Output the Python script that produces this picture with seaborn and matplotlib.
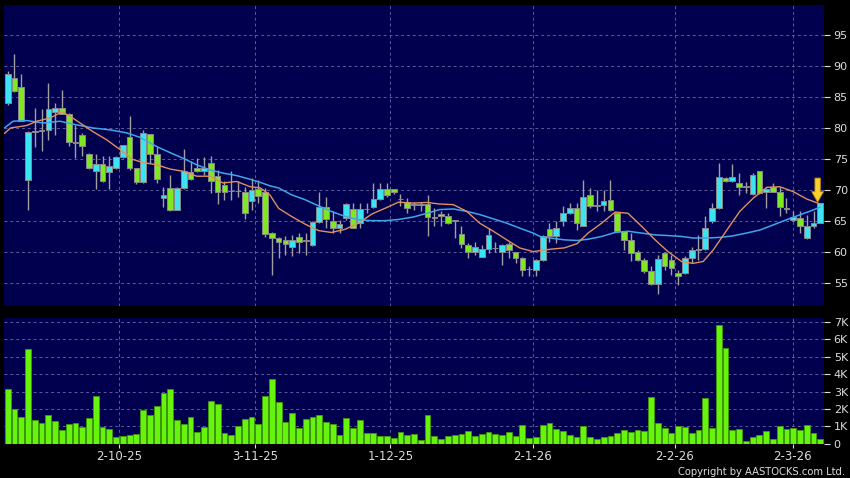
import matplotlib
matplotlib.use('Agg')
import matplotlib.pyplot as plt
import seaborn as sns
import pandas as pd

# 日K資料
opens = [84.0, 88.1, 86.6, 71.6, 79.4, 79.6, 79.7, 82.6, 83.3, 82.3,
         77.7, 78.9, 75.8, 73.1, 74.2, 72.9, 73.5, 75.3, 78.5, 73.5,
         71.2, 79.0, 75.8, 68.7, 70.3, 66.8, 70.3, 72.9, 73.6, 73.1,
         74.3, 72.2, 70.8, 69.8, 69.8, 69.7, 68.2, 70.2, 69.6, 63.0,
         62.2, 61.9, 60.7, 62.3, 61.75, 61.0, 64.8, 67.15, 65.0, 63.8,
         65.4, 66.9, 64.6, 66.9, 67.15, 68.5, 70.1, 70.1, 68.5, 68.1,
         67.6, 67.5, 67.7, 65.5, 66.1, 65.8, 65.0, 62.9, 61.1, 59.9,
         59.2, 60.5, 60.6, 59.9, 61.2, 59.9, 58.9, 57.2, 57.1, 58.7,
         63.7, 62.6, 64.9, 66.2, 67.0, 64.2, 69.1, 67.5, 67.6, 68.3,
         66.3, 63.3, 61.9, 60.0, 58.7, 56.9, 54.8, 59.8, 58.6, 56.6,
         56.5, 58.9, 60.2, 60.4, 65.0, 67.0, 71.9, 71.4, 71.1, 70.5,
         69.3, 73.0, 69.7, 70.4, 69.7, 67.0, 65.1, 65.4, 62.2, 64.2,
         64.7]
highs = [89.2, 92.0, 88.8, 79.5, 83.2, 83.0, 87.2, 84.1, 86.1, 82.4,
         80.5, 79.2, 75.9, 75.8, 75.4, 75.4, 75.4, 77.3, 81.9, 73.6,
         79.6, 79.1, 77.0, 70.5, 72.4, 70.4, 76.6, 74.6, 75.1, 75.3,
         75.5, 73.2, 71.4, 73.0, 71.5, 70.5, 71.9, 71.6, 70.3, 63.1,
         62.3, 62.5, 62.7, 63.0, 63.0, 64.9, 69.6, 68.9, 66.5, 65.15,
         67.85, 67.85, 67.85, 67.85, 71.1, 71.1, 71.1, 70.2, 69.3, 68.6,
         68.1, 68.1, 69.2, 67.0, 66.5, 66.2, 65.1, 64.1, 61.4, 61.6,
         61.1, 63.8, 61.6, 61.2, 61.6, 60.0, 59.2, 57.6, 58.8, 62.7,
         64.6, 64.9, 67.3, 67.85, 67.85, 71.6, 70.3, 70.0, 70.0, 71.6,
         66.4, 63.4, 63.0, 60.3, 58.9, 57.6, 59.5, 59.9, 59.5, 57.1,
         59.3, 60.7, 62.7, 65.7, 67.8, 74.4, 72.0, 74.2, 72.7, 71.2,
         72.7, 73.1, 70.3, 71.1, 70.5, 68.6, 66.5, 66.5, 66.0, 66.5,
         67.8]
lows = [83.8, 85.9, 81.1, 66.8, 77.0, 76.2, 78.0, 78.9, 82.2, 77.1,
        75.1, 75.4, 73.4, 70.1, 71.3, 70.1, 73.4, 75.2, 73.2, 71.0,
        71.1, 74.3, 71.1, 67.2, 66.5, 66.7, 70.2, 71.6, 72.9, 72.4,
        69.5, 67.7, 68.4, 68.4, 68.9, 65.3, 66.8, 67.9, 62.4, 56.2,
        58.9, 59.5, 59.3, 59.8, 59.5, 60.9, 64.6, 63.8, 63.0, 63.0,
        65.15, 63.8, 63.8, 66.2, 67.0, 68.4, 68.9, 69.4, 67.4, 66.2,
        66.8, 66.6, 62.6, 64.1, 64.1, 64.5, 62.2, 60.6, 58.9, 59.5,
        59.1, 59.75, 60.0, 57.9, 58.9, 58.1, 56.0, 56.0, 56.0, 58.4,
        61.6, 61.4, 64.2, 66.1, 63.5, 64.1, 67.0, 66.5, 66.5, 66.5,
        63.2, 60.3, 58.4, 58.4, 56.5, 54.6, 53.2, 57.1, 56.25, 54.6,
        56.4, 58.1, 58.7, 60.3, 64.6, 66.9, 71.3, 71.3, 69.2, 69.5,
        69.2, 69.4, 67.0, 69.6, 65.7, 66.2, 64.9, 63.0, 62.0, 63.8,
        64.6]
closes = [88.7, 86.0, 81.2, 79.4, 79.4, 79.6, 83.0, 83.3, 82.3, 77.8,
          77.7, 77.1, 73.5, 74.1, 71.5, 73.8, 75.3, 77.2, 73.5, 71.3,
          79.2, 75.8, 71.7, 69.1, 66.8, 70.3, 73.1, 71.7, 73.0, 73.5,
          71.35, 69.6, 69.7, 69.8, 69.8, 66.2, 70.0, 69.0, 62.8, 62.2,
          61.6, 61.3, 61.9, 61.6, 61.75, 64.8, 67.15, 65.3, 63.8, 64.45,
          67.7, 63.8, 66.9, 66.9, 68.5, 70.1, 69.2, 69.6, 68.5, 67.0,
          67.6, 67.7, 65.6, 65.5, 65.8, 64.7, 65.0, 61.2, 59.9, 60.7,
          60.5, 62.7, 60.6, 61.1, 60.2, 58.9, 57.05, 57.2, 58.7, 62.45,
          62.6, 63.9, 66.2, 67.0, 64.6, 68.8, 67.3, 67.5, 68.2, 66.8,
          63.3, 61.9, 59.8, 58.7, 56.8, 54.8, 58.8, 57.6, 57.3, 56.1,
          58.9, 60.2, 60.4, 63.8, 67.0, 72.05, 71.4, 72.05, 70.4, 70.5,
          72.4, 69.5, 70.1, 69.7, 67.2, 67.0, 65.6, 64.2, 64.1, 64.7,
          67.8]
volumes_k = [3.15, 1.98, 1.52, 5.44, 1.37, 1.17, 1.63, 1.31, 0.77, 1.13,
             1.17, 0.94, 1.50, 2.73, 0.94, 0.87, 0.40, 0.44, 0.52, 0.54,
             1.92, 1.67, 2.19, 2.90, 3.17, 1.35, 1.15, 1.56, 0.65, 0.96,
             2.44, 2.31, 0.60, 0.48, 1.04, 1.44, 1.56, 1.15, 2.75, 3.75,
             2.38, 1.23, 1.79, 0.92, 1.40, 1.54, 1.62, 1.27, 1.12, 0.52,
             1.50, 0.92, 1.38, 0.60, 0.63, 0.46, 0.46, 0.31, 0.65, 0.48,
             0.54, 0.19, 1.67, 0.42, 0.29, 0.42, 0.52, 0.56, 0.75, 0.42,
             0.54, 0.65, 0.58, 0.48, 0.69, 0.46, 1.10, 0.31, 0.37, 1.08,
             1.21, 0.83, 0.71, 0.48, 0.38, 1.02, 0.40, 0.25, 0.37, 0.42,
             0.60, 0.79, 0.69, 0.77, 0.71, 2.69, 1.17, 0.92, 0.60, 1.02,
             0.98, 0.63, 0.81, 2.60, 0.90, 6.81, 5.52, 0.77, 0.87, 0.15,
             0.37, 0.48, 0.71, 0.29, 1.00, 0.85, 0.90, 0.81, 1.06, 0.63,
             0.27]

# 移動平均線
ma_s_idx = [-0.5, 0.4, 2.8, 4.3, 6.2, 8.0, 9.2, 10.7, 12.6, 14.6, 16.6, 18.5,
            20.0, 22.0, 24.0, 25.9, 27.9, 29.9, 31.8, 33.8, 35.8, 37.3, 38.7,
            40.0, 41.9, 43.9, 45.9, 47.8, 49.8, 51.8, 53.8, 55.7, 57.7, 59.9,
            61.9, 63.8, 65.8, 67.8, 69.7, 71.7, 73.7, 75.6, 77.6, 80.2, 82.2,
            84.1, 85.7, 87.7, 89.7, 91.6, 93.6, 95.6, 97.5, 99.5, 101.2, 102.7,
            104.2, 106.2, 108.1, 110.1, 112.1, 114.0, 116.0, 118.0, 120.0]
ma_s_val = [79.1, 80.0, 80.4, 81.1, 81.6, 82.6, 81.9, 80.8, 79.4, 78.1, 76.5, 74.9,
            74.4, 74.05, 73.35, 73.0, 72.2, 72.2, 71.1, 71.35, 70.5, 70.3, 69.2,
            67.0, 65.7, 64.45, 63.4, 63.1, 63.6, 64.6, 66.1, 67.0, 68.0, 67.85,
            67.95, 67.7, 67.6, 66.5, 64.6, 63.3, 61.9, 60.6, 60.0, 60.4, 60.6,
            61.3, 63.0, 64.6, 66.4, 66.2, 64.1, 61.9, 60.0, 58.4, 58.1, 58.4,
            60.3, 63.5, 66.5, 68.65, 70.4, 70.5, 69.7, 68.5, 67.7]
ma_l_idx = [-0.5, 0.8, 2.8, 5.3, 7.7, 10.2, 12.6, 15.1, 17.6, 19.5, 22.0, 24.0,
            25.9, 27.9, 29.9, 31.8, 33.8, 35.8, 37.3, 38.7, 40.0, 41.9, 43.9,
            45.9, 47.8, 49.8, 51.8, 53.8, 55.7, 57.7, 59.9, 61.9, 63.8, 65.8,
            67.8, 69.7, 71.7, 73.7, 75.6, 77.6, 78.6, 80.2, 82.2, 84.1, 85.7,
            87.7, 89.7, 91.6, 93.6, 95.6, 97.5, 99.5, 101.2, 103.2, 105.2,
            107.1, 109.1, 111.1, 113.0, 115.0, 117.0, 119.0, 120.0]
ma_l_val = [80.0, 81.1, 81.2, 80.8, 81.1, 80.5, 80.0, 79.7, 79.2, 78.5, 77.0, 76.0,
            75.1, 74.05, 73.2, 72.7, 72.3, 71.7, 71.2, 70.65, 70.3, 69.2, 68.4,
            67.4, 66.5, 65.7, 65.15, 65.0, 65.0, 65.2, 65.6, 66.2, 66.8, 66.9,
            66.5, 66.0, 65.3, 64.6, 63.8, 63.0, 62.45, 62.2, 61.9, 61.8, 62.0,
            62.45, 63.1, 63.3, 63.0, 62.7, 62.6, 62.45, 62.2, 62.2, 62.3,
            62.55, 63.0, 63.5, 64.3, 65.15, 65.96, 66.76, 67.2]

date_pos = [16.5, 36.5, 56.5, 77.5, 98.5, 115.9]
date_labels = ['2-10-25', '3-11-25', '1-12-25', '2-1-26', '2-2-26', '2-3-26']
price_ticks = [55, 60, 65, 70, 75, 80, 85, 90, 95]
vol_ticks = [0, 1, 2, 3, 4, 5, 6, 7]
vol_labels = ['0', '1K', '2K', '3K', '4K', '5K', '6K', '7K']

df = pd.DataFrame({'open': opens, 'high': highs, 'low': lows,
                   'close': closes, 'vol': volumes_k})
df['idx'] = range(len(df))

# 顏色
BG = '#00004e'
UP = '#3ce4f2'
DOWN = '#80e820'
GRID = '#5c5c9c'
TXT = '#dcdcdc'

sns.set_theme(style='dark', rc={'axes.facecolor': BG, 'figure.facecolor': 'black',
                                'savefig.facecolor': 'black'})
plt.rcParams['font.family'] = ['DejaVu Sans']

fig = plt.figure(figsize=(8.5, 4.78), dpi=100)
ax = fig.add_axes([4 / 850, 1 - 306 / 478, 820 / 850, 301 / 478])
axv = fig.add_axes([4 / 850, 1 - 443.6 / 478, 820 / 850, 125.3 / 478])

# 上圖：K線
diff = df['close'] - df['open']
body_col = ['#a8a8a8' if d == 0 else (UP if d > 0 else DOWN) for d in diff]
body_h = [max(abs(d), 0.12) for d in diff]
body_b = [min(o, c) - (0.06 if o == c else 0) for o, c in zip(df['open'], df['close'])]
ax.vlines(df['idx'], df['low'], df['high'], color='#a0a0a0', lw=1, zorder=2)
ax.bar(df['idx'], body_h, bottom=body_b, width=0.84, color=body_col,
       edgecolor='#8a8a8a', linewidth=0.7, zorder=3)

sns.lineplot(x=ma_l_idx, y=ma_l_val, ax=ax, color='#3fa6ea', lw=1.1, zorder=4)
sns.lineplot(x=ma_s_idx, y=ma_s_val, ax=ax, color='#e0905c', lw=1.0, zorder=5)

# 最新一根的黃色箭頭
tip = df['high'].iloc[-1] + 0.2
ax.arrow(df['idx'].iloc[-1] - 0.4, tip + 3.9, 0, -3.9, width=0.8, head_width=1.75,
         head_length=1.7, length_includes_head=True, fc='#f8d030',
         ec='#c08a00', lw=0.6, zorder=6, clip_on=False)

ax.set_xlim(-0.55, 120.54)
ax.set_ylim(51.2, 99.9)
ax.set_yticks(price_ticks)
ax.set_xticks(date_pos)
ax.set_xticklabels([])
ax.yaxis.tick_right()
ax.tick_params(axis='y', colors=TXT, labelsize=8, length=4, width=0.8,
               pad=3, right=True, left=False, labelcolor=TXT)
ax.tick_params(axis='x', bottom=False, length=0)
ax.grid(True, color=GRID, ls=(0, (3, 3)), lw=0.7)
ax.set_xlabel('')
ax.set_ylabel('')
for s in ax.spines.values():
    s.set_visible(False)

# 下圖：成交量
sns.barplot(x='idx', y='vol', data=df, ax=axv, color='#66f40c', saturation=1,
            width=0.86, edgecolor='#3f9a08', linewidth=0.6, zorder=3)
axv.set_xlim(-0.55, 120.54)
axv.set_ylim(0, 7.22)
axv.set_yticks(vol_ticks)
axv.set_yticklabels(vol_labels)
axv.set_xticks(date_pos)
axv.set_xticklabels(date_labels)
axv.yaxis.tick_right()
axv.tick_params(axis='y', colors=TXT, labelsize=8, length=4, width=0.8, pad=3,
                right=True, left=False, labelcolor=TXT)
axv.tick_params(axis='x', colors=TXT, labelsize=8.5, length=3, width=0.8, pad=1.5,
                bottom=True, labelcolor=TXT)
axv.grid(True, color=GRID, ls=(0, (3, 3)), lw=0.7)
axv.set_axisbelow(True)
axv.set_xlabel('')
axv.set_ylabel('')
for s in axv.spines.values():
    s.set_visible(False)

fig.text(0.994, 0.003, 'Copyright by AASTOCKS.com Ltd.', color=TXT,
         fontsize=7.2, ha='right', va='bottom')

fig.savefig('out.png', dpi=100, facecolor='black')
